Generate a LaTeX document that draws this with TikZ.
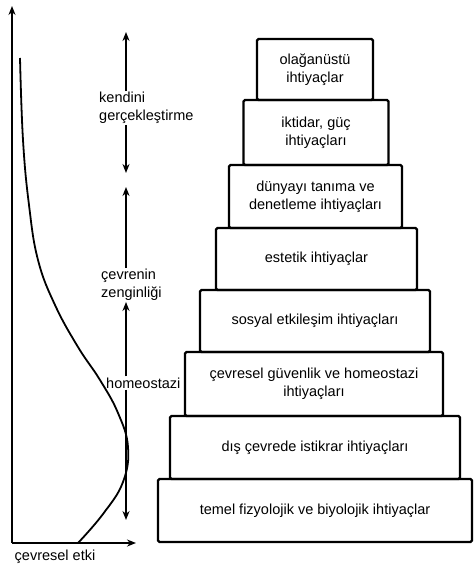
\documentclass[tikz,border=0pt]{standalone}
\usepackage{fontspec}
\setmainfont{Liberation Sans}
\usetikzlibrary{arrows.meta}
\begin{document}
\begin{tikzpicture}[x=1pt, y=-1pt, >={Stealth[length=9pt,width=7pt]},
    every node/.style={font=\fontsize{14.5}{18}\selectfont},
    need/.style={draw, line width=2.2pt, rounded corners=1.5pt, align=center, inner sep=0pt},
    lbl/.style={align=left, anchor=west, inner sep=1pt}]
    \useasboundingbox (0,0) rectangle (474,569);
    % basamaklar
    \node[need, minimum width=116pt, minimum height=61pt] (ou) at (315,69.5) {olağanüstü\\ihtiyaçlar};
    \node[need, minimum width=145pt, minimum height=65pt] (ig) at (316,132.5) {iktidar, güç\\ihtiyaçları};
    \node[need, minimum width=173pt, minimum height=63pt] (dt) at (315.5,196.5) {dünyayı tanıma ve\\denetleme ihtiyaçları};
    \node[need, minimum width=201pt, minimum height=62pt] (es) at (316.5,259) {estetik ihtiyaçlar};
    \node[need, minimum width=230pt, minimum height=62pt] (se) at (315,321) {sosyal etkileşim ihtiyaçları};
    \node[need, minimum width=258pt, minimum height=64pt] (cg) at (314,384) {çevresel güvenlik ve homeostazi\\ihtiyaçları};
    \node[need, minimum width=290pt, minimum height=63pt] (di) at (315,447.5) {dış çevrede istikrar ihtiyaçları};
    \node[need, minimum width=314pt, minimum height=63pt] (tf) at (315,510.5) {temel fizyolojik ve biyolojik ihtiyaçlar};
    % eksenler
    \coordinate (o) at (12,543);
    \coordinate (yt) at (12,6);
    \coordinate (xt) at (136,543);
    \draw[->, line width=2.4pt] (o) -- (yt);
    \draw[->, line width=2.4pt] (o) -- (xt);
    \node (ce) at (55,557) {çevresel etki};
    % egri
    \draw[line width=1.8pt] plot[smooth, tension=0.7] coordinates {(20,58) (23,140) (29,205) (38,260) (55,305) (78,347) (100,380) (118,413) (128,447) (123,482) (103,514) (78,543)};
    % duzeyler
    \node[lbl] (kg) at (98,108) {kendini\\gerçekleştirme};
    \node[lbl] (cz) at (100,285) {çevrenin\\zenginliği};
    \node[lbl] (ho) at (105,383) {homeostazi};
    \coordinate (kgt) at (126,32);
    \coordinate (kgb) at (126,173);
    \coordinate (czt) at (126,187);
    \coordinate (hob) at (126,520);
    \draw[->, line width=2pt] (kg.north -| kgt) -- (kgt);
    \draw[->, line width=2pt] (kg.south -| kgb) -- (kgb);
    \draw[->, line width=2pt] (cz.north -| czt) -- (czt);
    \draw[->, line width=2pt] (ho.north -| czt) -- (cz.south -| czt);
    \draw[->, line width=2pt] (ho.south -| hob) -- (hob);
\end{tikzpicture}
\end{document}
